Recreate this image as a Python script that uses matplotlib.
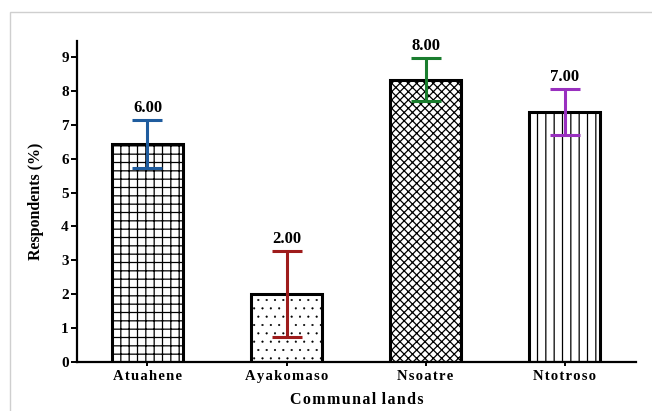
import matplotlib
matplotlib.use("Agg")
import matplotlib.pyplot as plt
from matplotlib.patches import Rectangle

categories = ["Atuahene", "Ayakomaso", "Nsoatre", "Ntotroso"]
means = [6.43, 2.0, 8.33, 7.37]
errors = [0.72, 1.27, 0.64, 0.67]
value_labels = ["6.00", "2.00", "8.00", "7.00"]
err_colors = ["#1f5c9e", "#9e1c1c", "#1a7d2e", "#9930bf"]
hatches = ["++", "..", "xxxx", "||"]
hatch_lw = [0.9, 0.3, 0.9, 0.9]

plt.rcParams['font.family'] = ['Liberation Serif', 'DejaVu Serif']
plt.rcParams['hatch.linewidth'] = 0.9

def spaced(s):
    return "\u200a".join(s)

fig = plt.figure(figsize=(6.52, 4.11), dpi=100)
fig.patches.append(Rectangle((10/652, -0.2), 1.2, (411-12)/411 + 0.2, transform=fig.transFigure,
                             fill=False, edgecolor="#cfcfcf", linewidth=1.0))
ax = fig.add_axes([77/652, 49/411, (636-77)/652, (362-41)/411])

x = list(range(len(categories)))
bars = ax.bar(x, means, width=0.51, color="white", edgecolor="black", linewidth=2.2, zorder=2)
for b, h, lw in zip(bars, hatches, hatch_lw):
    b.set_hatch(h)
    try:
        b.set_hatch_linewidth(lw)
    except AttributeError:
        pass

for i in x:
    ax.errorbar(i, means[i], yerr=errors[i], color=err_colors[i], elinewidth=2.2,
                capsize=10.5, capthick=2.2, fmt='none', zorder=3)
    ax.text(i, means[i] + errors[i] + 0.12, value_labels[i], ha='center', va='bottom',
            fontsize=12, fontweight='bold', zorder=4)

ax.set_xlim(-0.507, 3.514)
ax.set_ylim(0, 9.47)
ax.set_yticks(range(0, 10))
ax.set_xticks(x)
ax.set_xticklabels([spaced(c) for c in categories], fontsize=10.5, fontweight='bold')
for lab in ax.get_yticklabels():
    lab.set_fontweight('bold')
    lab.set_fontsize(11)
ax.spines['top'].set_visible(False)
ax.spines['right'].set_visible(False)
ax.spines['left'].set_linewidth(1.6)
ax.spines['bottom'].set_linewidth(1.6)
ax.tick_params(axis='y', direction='out', length=4, width=1.4, pad=2)
ax.tick_params(axis='x', direction='out', length=3, width=1.4, pad=3)

ax.set_xlabel(spaced("Communal") + " \u200a" + spaced("lands"), fontsize=11.5, fontweight='bold', labelpad=6)
ax.set_ylabel("Respondents (%)", fontsize=11.5, fontweight='bold', labelpad=12)

fig.savefig("out.png", dpi=100)
